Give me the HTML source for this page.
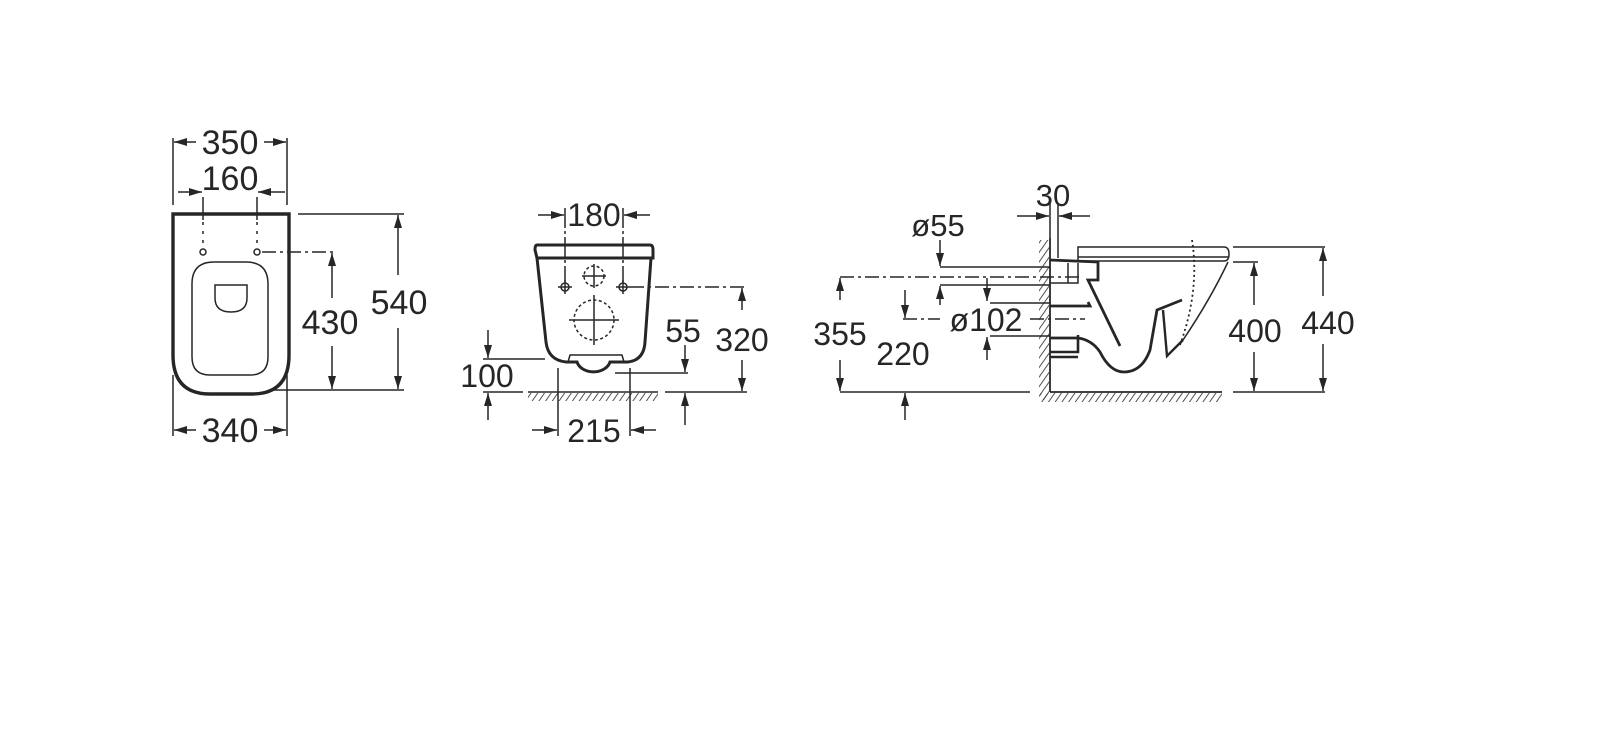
<!DOCTYPE html>
<html><head><meta charset="utf-8"><style>
html,body{margin:0;padding:0;background:#fff}
svg{display:block}
text{font-family:"Liberation Sans",sans-serif;fill:#262626;text-anchor:middle}
</style></head><body>
<svg width="1611" height="741" viewBox="0 0 1611 741" xmlns="http://www.w3.org/2000/svg">
<defs>
<marker id="a" markerUnits="userSpaceOnUse" markerWidth="14" markerHeight="10" refX="13" refY="4" orient="auto"><path d="M0,0 L13,4 L0,8 Z" fill="#262626"/></marker>
<pattern id="h" width="5.5" height="6" patternUnits="userSpaceOnUse" patternTransform="rotate(35)"><line x1="0" y1="0" x2="0" y2="6" stroke="#333" stroke-width="1.7"/></pattern>
</defs>
<g stroke="#262626" fill="none" stroke-width="1.5">
<!-- LEFT VIEW -->
<line x1="173" y1="138" x2="173" y2="205"/><line x1="287" y1="138" x2="287" y2="205"/>
<line x1="196" y1="142" x2="174" y2="142" marker-end="url(#a)"/><line x1="264" y1="142" x2="286" y2="142" marker-end="url(#a)"/>
<line x1="178" y1="192" x2="202" y2="192" marker-end="url(#a)"/><line x1="285" y1="192" x2="258" y2="192" marker-end="url(#a)"/>
<line x1="203" y1="197" x2="203" y2="220"/><line x1="257" y1="197" x2="257" y2="220"/>
<line x1="203" y1="222" x2="203" y2="248" stroke-dasharray="3,6"/><line x1="257" y1="222" x2="257" y2="248" stroke-dasharray="3,6"/>
<path d="M173,214 L289,214 L289,355 Q289,394 252,394 L210,394 Q173,394 173,355 Z" stroke-width="3.4"/>
<path d="M214,262 L246,262 Q268,262 268,284 L268,357 Q268,375 250,375 L210,375 Q192,375 192,357 L192,284 Q192,262 214,262 Z"/>
<path d="M215,285 L247,285 L247,298 Q247,312 231,312 Q215,312 215,298 Z"/>
<circle cx="203" cy="252" r="3"/><circle cx="257" cy="252" r="3"/>
<line x1="262" y1="252" x2="335" y2="252" stroke-dasharray="14,4,3,4"/>
<line x1="298" y1="214" x2="404" y2="214"/><line x1="271" y1="390" x2="404" y2="390"/>
<line x1="332" y1="298" x2="332" y2="253" marker-end="url(#a)"/><line x1="332" y1="346" x2="332" y2="389" marker-end="url(#a)"/>
<line x1="398" y1="275" x2="398" y2="215" marker-end="url(#a)"/><line x1="398" y1="328" x2="398" y2="389" marker-end="url(#a)"/>
<line x1="173" y1="375" x2="173" y2="436"/><line x1="287" y1="375" x2="287" y2="436"/>
<line x1="196" y1="430" x2="174" y2="430" marker-end="url(#a)"/><line x1="264" y1="430" x2="286" y2="430" marker-end="url(#a)"/>
<!-- MIDDLE VIEW -->
<line x1="538" y1="215" x2="564" y2="215" marker-end="url(#a)"/><line x1="650" y1="215" x2="624" y2="215" marker-end="url(#a)"/>
<line x1="565" y1="208" x2="565" y2="282" stroke-dasharray="20,3,3,3"/><line x1="623" y1="208" x2="623" y2="282" stroke-dasharray="20,3,3,3"/>
<path d="M537,245 L650,245 Q653,245 653,250 L653,258 L537,258 L535,250 Q535,245 537,245 Z" stroke-width="3"/>
<path d="M537,258 L546,342 Q548,360 566,362 L577,362 A17,13 0 0 0 610,362 L628,362 Q644,360 645,342 L651,258" stroke-width="3"/>
<path d="M568,362 L570,355 L622,355 L624,362"/>
<circle cx="565" cy="287" r="4"/><circle cx="623" cy="287" r="4"/>
<line x1="558" y1="287" x2="572" y2="287"/><line x1="565" y1="280" x2="565" y2="294"/>
<line x1="616" y1="287" x2="630" y2="287"/><line x1="623" y1="280" x2="623" y2="294"/>
<circle cx="594" cy="276" r="10" stroke-dasharray="3,2.5"/>
<line x1="582" y1="276" x2="606" y2="276"/><line x1="594" y1="264" x2="594" y2="288"/>
<circle cx="594" cy="320" r="20" stroke-dasharray="3,2.5"/>
<line x1="569" y1="320" x2="619" y2="320"/><line x1="594" y1="295" x2="594" y2="345"/>
<line x1="630" y1="287" x2="747" y2="287" stroke-dasharray="14,4,3,4"/>
<line x1="742" y1="310" x2="742" y2="288" marker-end="url(#a)"/><line x1="742" y1="360" x2="742" y2="391" marker-end="url(#a)"/>
<line x1="483" y1="359" x2="545" y2="359"/><line x1="483" y1="392" x2="523" y2="392"/><line x1="528" y1="392" x2="658" y2="392"/><line x1="665" y1="392" x2="747" y2="392"/>
<rect x="528" y="393" width="130" height="8" fill="url(#h)" stroke="none"/>
<line x1="488" y1="330" x2="488" y2="358" marker-end="url(#a)"/><line x1="488" y1="420" x2="488" y2="393" marker-end="url(#a)"/>
<line x1="615" y1="373" x2="688" y2="373"/>
<line x1="685" y1="345" x2="685" y2="372" marker-end="url(#a)"/><line x1="685" y1="425" x2="685" y2="393" marker-end="url(#a)"/>
<line x1="558" y1="368" x2="558" y2="436"/><line x1="630" y1="368" x2="630" y2="436"/>
<line x1="532" y1="430" x2="557" y2="430" marker-end="url(#a)"/><line x1="656" y1="430" x2="631" y2="430" marker-end="url(#a)"/>
<!-- RIGHT VIEW -->
<line x1="1017" y1="216" x2="1049" y2="216" marker-end="url(#a)"/><line x1="1090" y1="216" x2="1059" y2="216" marker-end="url(#a)"/>
<line x1="1050" y1="200" x2="1050" y2="238"/><line x1="1058" y1="205" x2="1058" y2="258"/>
<line x1="1050" y1="238" x2="1050" y2="392" stroke-width="1.8"/>
<rect x="1039" y="240" width="10" height="160" fill="url(#h)" stroke="none"/>
<line x1="1050" y1="392" x2="1222" y2="392" stroke-width="1.8"/>
<rect x="1040" y="393" width="182" height="9" fill="url(#h)" stroke="none"/>
<line x1="840" y1="392" x2="1030" y2="392"/>
<line x1="940" y1="240" x2="940" y2="266" marker-end="url(#a)"/>
<line x1="940" y1="267" x2="1050" y2="267"/><line x1="940" y1="285" x2="1050" y2="285"/>
<line x1="940" y1="305" x2="940" y2="286" marker-end="url(#a)"/>
<line x1="840" y1="277" x2="1082" y2="277" stroke-dasharray="14,4,3,4"/>
<line x1="987" y1="278" x2="987" y2="301" marker-end="url(#a)"/>
<line x1="990" y1="303" x2="1050" y2="303"/><line x1="990" y1="336" x2="1050" y2="336"/>
<line x1="987" y1="360" x2="987" y2="337" marker-end="url(#a)"/>
<line x1="903" y1="319" x2="940" y2="319" stroke-dasharray="14,4,3,4"/>
<line x1="1030" y1="319" x2="1085" y2="319" stroke-dasharray="14,4,3,4"/>
<line x1="905" y1="290" x2="905" y2="318" marker-end="url(#a)"/>
<line x1="905" y1="420" x2="905" y2="393" marker-end="url(#a)"/>
<line x1="840" y1="300" x2="840" y2="278" marker-end="url(#a)"/><line x1="840" y1="360" x2="840" y2="391" marker-end="url(#a)"/>
<path d="M1078,247 L1224,247 Q1229,247 1229,254 Q1229,261 1224,261 L1078,261 Z"/>
<line x1="1078" y1="257" x2="1228" y2="257"/>
<path d="M1050,260 L1098,262 L1098,280 L1088,280 L1120,346" stroke-width="2.8"/>
<path d="M1050,283 L1078,283 L1078,263 M1068,263 L1068,283"/>
<path d="M1050,306 L1090,306 L1088,302 M1050,338 L1078,338 Q1092,340 1100,352 Q1110,372 1124,372 Q1142,372 1150,350 L1157,310 L1182,300" stroke-width="2.8"/>
<path d="M1163,310 L1167,356 L1183,340" stroke-width="2.4"/>
<path d="M1050,352 L1078,352 L1078,335 M1050,357 L1078,357" stroke-width="2.6"/>
<path d="M1228,262 Q1210,300 1183,340"/>
<path d="M1192,240 Q1200,290 1180,345" stroke-dasharray="2,3" stroke-width="1.8"/>
<line x1="1233" y1="247" x2="1325" y2="247"/><line x1="1233" y1="262" x2="1258" y2="262"/>
<line x1="1233" y1="392" x2="1325" y2="392"/>
<line x1="1254" y1="305" x2="1254" y2="263" marker-end="url(#a)"/><line x1="1254" y1="352" x2="1254" y2="391" marker-end="url(#a)"/>
<line x1="1323" y1="296" x2="1323" y2="248" marker-end="url(#a)"/><line x1="1323" y1="344" x2="1323" y2="391" marker-end="url(#a)"/>
</g>
<g font-size="34">
<text x="230" y="154">350</text>
<text x="230" y="190">160</text>
<text x="330" y="334">430</text>
<text x="399" y="314">540</text>
<text x="230" y="442">340</text>
<text x="594" y="226" font-size="32">180</text>
<text x="683" y="342" font-size="32">55</text>
<text x="742" y="351" font-size="32">320</text>
<text x="487" y="387" font-size="32">100</text>
<text x="594" y="442" font-size="32">215</text>
<text x="1053" y="206" font-size="31">30</text>
<text x="938" y="236" font-size="31">ø55</text>
<text x="986" y="331" font-size="32">ø102</text>
<text x="840" y="345" font-size="32">355</text>
<text x="903" y="365" font-size="32">220</text>
<text x="1255" y="342" font-size="32">400</text>
<text x="1328" y="334" font-size="32">440</text>
</g>
</svg>
</body></html>
